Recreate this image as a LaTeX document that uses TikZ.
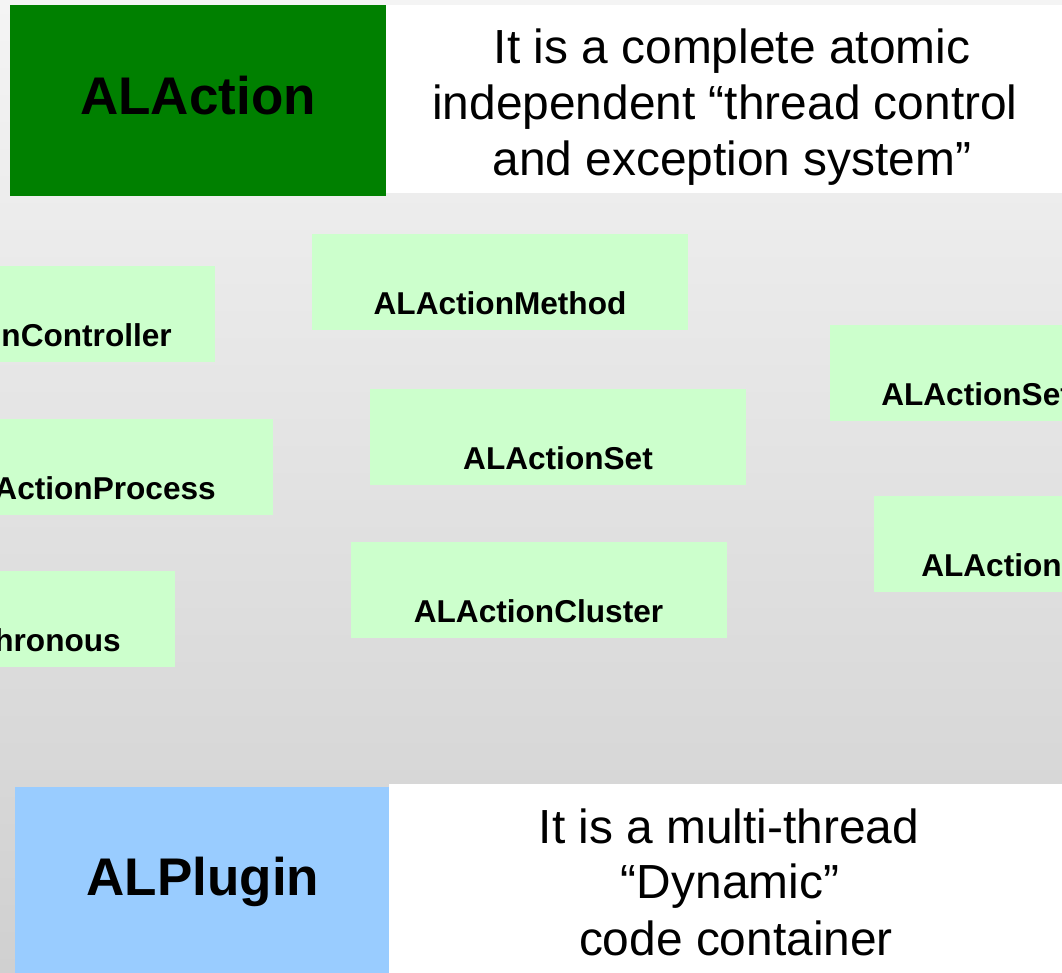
\documentclass[tikz,border=0pt]{standalone}
\usepackage{fontspec}
\setmainfont{Liberation Sans}
\definecolor{titlegreen}{HTML}{008000}
\definecolor{pluginblue}{HTML}{99CCFF}
\definecolor{boxgreen}{HTML}{CCFFCC}
\definecolor{bgtop}{HTML}{F4F4F4}
\definecolor{bgbot}{HTML}{D0D0D0}
\tikzset{
  classbox/.style={fill=boxgreen, draw=none, minimum width=282pt, minimum height=72pt, inner sep=0pt},
  boxlabel/.style={inner sep=0pt, font=\fontsize{23.7}{28}\selectfont\bfseries, text=black},
  titletext/.style={inner sep=0pt, anchor=base, font=\fontsize{39.75}{48}\selectfont\bfseries, text=black},
  desctext/.style={inner sep=0pt, anchor=base, font=\fontsize{35.9}{42}\selectfont, text=black},
  panel/.style={draw=none, inner sep=0pt}
}
\begin{document}
\begin{tikzpicture}[x=0.75pt,y=-0.75pt]
\useasboundingbox (0,0) rectangle (1062,972);
\clip (0,0) rectangle (1062,972);
\shade[top color=bgtop, bottom color=bgbot] (0,0) rectangle (1062,972);

% top panel
\node[panel, fill=white, minimum width=507pt, minimum height=141pt] (descA) at (724,99) {};
\node[panel, fill=titlegreen, minimum width=282pt, minimum height=143.25pt] (alaction) at (198,100.5) {};
\node[titletext] (alactionT) at (198,114) {ALAction};
\node[desctext] (descA1) at (732,63) {It is a complete atomic};
\node[desctext] (descA2) at (725,119) {independent “thread control};
\node[desctext] (descA3) at (732,175) {and exception system”};

% class boxes
\node[classbox] (ctrl) at (27,313.5) {};
\node[boxlabel, anchor=base east] (ctrlT) at (172,346) {nController};
\node[classbox] (method) at (500,282) {};
\node[boxlabel, anchor=base] (methodT) at (500,314) {ALActionMethod};
\node[classbox] (proc) at (85,467) {};
\node[boxlabel, anchor=base east] (procT) at (216,499) {ActionProcess};
\node[classbox] (setm) at (558,437) {};
\node[boxlabel, anchor=base] (setmT) at (558,469) {ALActionSet};
\node[classbox] (async) at (-13,619) {};
\node[boxlabel, anchor=base east] (asyncT) at (121,651) {hronous};
\node[classbox] (cluster) at (538.5,590) {};
\node[boxlabel, anchor=base] (clusterT) at (538.5,622) {ALActionCluster};
\node[classbox] (setr) at (1018,373) {};
\node[boxlabel, anchor=base west] (setrT) at (881,405) {ALActionSet};
\node[classbox] (actr) at (1062,544) {};
\node[boxlabel, anchor=base west] (actrT) at (921,576) {ALAction};

% bottom panel
\node[panel, fill=white, minimum width=504.75pt, minimum height=143.25pt] (descB) at (725.5,879.5) {};
\node[panel, fill=pluginblue, minimum width=280.5pt, minimum height=141pt] (alplugin) at (202,881) {};
\node[titletext] (alpluginT) at (203,895) {ALPlugin};
\node[desctext] (descB1) at (729,843) {It is a multi-thread};
\node[desctext] (descB2) at (730,898) {“Dynamic”};
\node[desctext] (descB3) at (736,955) {code container};
\end{tikzpicture}
\end{document}
